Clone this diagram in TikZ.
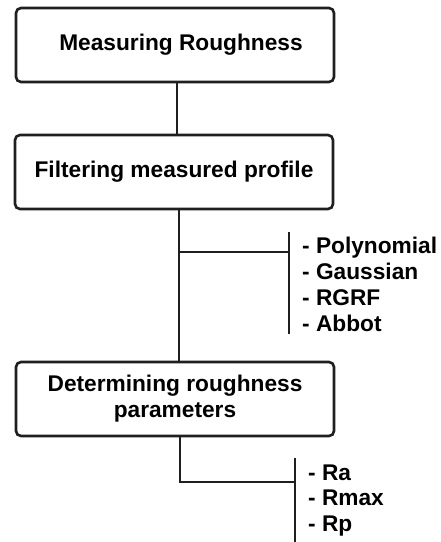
\documentclass[tikz,border=0pt]{standalone}
\usepackage{fontspec}
\setmainfont{Liberation Sans}
\begin{document}
\begin{tikzpicture}[x=1pt,y=-1pt,
  box/.style={draw=black!88, line width=2.6pt, rounded corners=5pt, minimum width=318pt, minimum height=74pt, inner sep=0pt, align=center, font=\fontsize{22.7}{26}\selectfont\bfseries},
  conn/.style={draw=black!88, line width=2.4pt},
  item/.style={anchor=base west, inner sep=0pt, font=\fontsize{22.7}{26}\selectfont\bfseries}]
\useasboundingbox (0,0) rectangle (441,542);
\node[box] (b1) at (175,45) {\hspace*{12pt}Measuring Roughness};
\node[box] (b2) at (174,172) {Filtering measured profile};
\node[box] (b3) at (175,399) {Determining roughness\\parameters};
% connector 1
\coordinate (t1) at (177,0);
\draw[conn] (b1.south -| t1) -- (b2.north -| t1);
% connector 2 with filter branch
\coordinate (t2) at (179,252);
\coordinate (k1a) at (289,232);
\coordinate (k1b) at (289,334);
\draw[conn] (b2.south -| t2) -- (b3.north -| t2);
\draw[conn] (t2) -- (t2 -| k1a);
\draw[conn] (k1a) -- (k1b);
\node[item] (p1) at (302,253) {- Polynomial};
\node[item] (p2) at (302,279) {- Gaussian};
\node[item] (p3) at (302,305) {- RGRF};
\node[item] (p4) at (302,331) {- Abbot};
% connector 3 with parameter branch
\coordinate (t3) at (180,482);
\coordinate (k2a) at (295,458);
\coordinate (k2b) at (295,545);
\draw[conn] (b3.south -| t3) -- (t3) -- (t3 -| k2a);
\draw[conn] (k2a) -- (k2b);
\node[item] (q1) at (308,480) {- Ra};
\node[item] (q2) at (308,505) {- Rmax};
\node[item] (q3) at (308,531) {- Rp};
\end{tikzpicture}
\end{document}
